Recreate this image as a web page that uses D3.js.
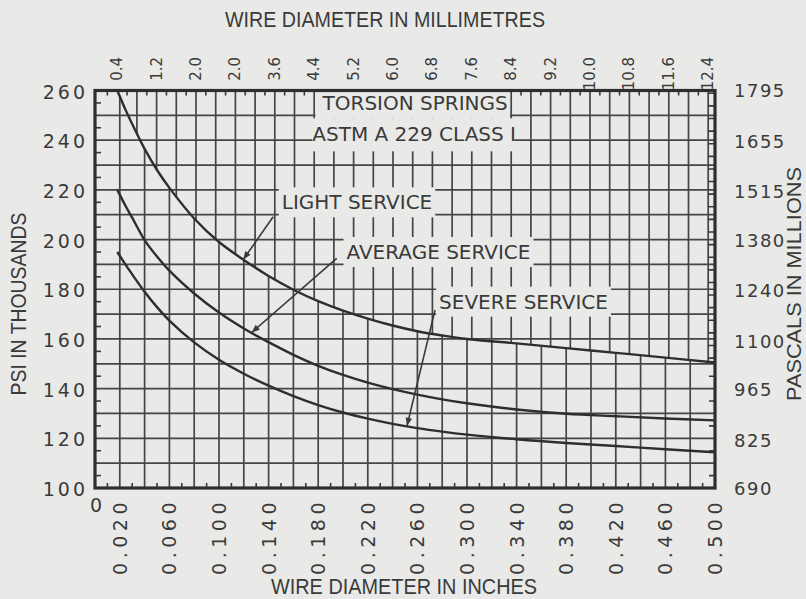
<!DOCTYPE html>
<html>
<head>
<meta charset="utf-8">
<script src="https://cdn.jsdelivr.net/npm/d3@7/dist/d3.min.js"></script>
<style>
  body { margin: 0; background: #e9e9e7; }
  svg { display: block; }
  text { fill: #3a3a3a; font-family: "DejaVu Sans", sans-serif; }
  .title { font-family: "Liberation Sans", Arial, sans-serif; font-size: 22px; }
</style>
</head>
<body>
<div id="chart"></div>
<script>
// Values (wire diameter in inches -> stress in thousands of psi)
var diameters      = [0.018, 0.025, 0.03, 0.04, 0.05, 0.06, 0.08, 0.10, 0.12, 0.14, 0.16, 0.18, 0.20, 0.22, 0.24, 0.26, 0.28, 0.30, 0.34, 0.38, 0.42, 0.46, 0.50];
var lightService   = [260, 251.8, 246.5, 236.5, 228, 220.8, 208.5, 199, 191.8, 185.3, 179.8, 175.2, 171.4, 168.2, 165.4, 163.1, 161.4, 160, 158.2, 156.3, 154.4, 152.5, 150.5];
var averageService = [220, 213.2, 208.8, 199.8, 193.2, 187.5, 178.3, 170.6, 164.2, 158.7, 153.6, 149.2, 145.5, 142.4, 139.8, 137.6, 135.7, 134.1, 131.6, 129.9, 128.9, 128, 127.2];
var severeService  = [195, 189.6, 186, 179, 172.8, 167.4, 158.6, 151.6, 146, 141.2, 137, 133.4, 130.4, 127.9, 125.8, 124.1, 122.7, 121.5, 119.6, 118.1, 116.9, 115.6, 114.4];

// axis ticks and labels
var psiTicks   = [100, 120, 140, 160, 180, 200, 220, 240, 260];
var mpaTicks   = [690, 825, 965, 1100, 1240, 1380, 1515, 1655, 1795];
var inchTicks  = [0.02, 0.06, 0.10, 0.14, 0.18, 0.22, 0.26, 0.30, 0.34, 0.38, 0.42, 0.46, 0.50];
var inchLabels = ["0.020", "0.060", "0.100", "0.140", "0.180", "0.220", "0.260", "0.300", "0.340", "0.380", "0.420", "0.460", "0.500"];
var mmTicks    = [0.4, 1.2, 2.0, 2.8, 3.6, 4.4, 5.2, 6.0, 6.8, 7.6, 8.4, 9.2, 10.0, 10.8, 11.6, 12.4];
var mmLabels   = ["0.4", "1.2", "2.0", "2.0", "3.6", "4.4", "5.2", "6.0", "6.8", "7.6", "8.4", "9.2", "10.0", "10.8", "11.6", "12.4"];

// curve labels: text, label centre (in, psi), arrow tail and tip (in, psi)
var notes = [
  { text: "LIGHT SERVICE",   at: [0.2113, 215.0], from: [0.1437, 209.2], to: [0.1196, 192.0] },
  { text: "AVERAGE SERVICE", at: [0.2770, 195.0], from: [0.1949, 192.4], to: [0.1264, 162.6] },
  { text: "SEVERE SERVICE",  at: [0.3456, 175.0], from: [0.2742, 171.6], to: [0.2516, 125.0] }
];

var width = 806, height = 599;
var plot = { left: 95, right: 715, top: 90.5, bottom: 488 };

var x = d3.scaleLinear().domain([0, 0.5]).range([plot.left, plot.right]);
var y = d3.scaleLinear().domain([100, 260]).range([plot.bottom, plot.top]);
// millimetre scale as printed along the top (slightly offset from the inch one)
var xmm = d3.scaleLinear().domain([0, 12.4]).range([97.5, 708.2]);
var ympa = d3.scaleLinear().domain([100 * 6.895, 260 * 6.895]).range([plot.bottom, plot.top]);

var ink = "#383838";
var paper = "#e9e9e7";

var svg = d3.select("#chart").append("svg")
  .attr("width", width)
  .attr("height", height);

var defs = svg.append("defs");

var smooth = d3.curveCatmullRom.alpha(0.5);
var lightPts = diameters.map(function(d, i) { return [d, lightService[i]]; });

// region above the light service curve uses the millimetre grid, below uses the inch grid
var upperArea = d3.area().curve(smooth)
  .x(function(d) { return x(d[0]); })
  .y0(y(260))
  .y1(function(d) { return y(d[1]); });
var lowerArea = d3.area().curve(smooth)
  .x(function(d) { return x(d[0]); })
  .y0(y(100))
  .y1(function(d) { return y(d[1]); });

defs.append("clipPath").attr("id", "upper")
  .append("path").attr("d", upperArea(lightPts));
var lowClip = defs.append("clipPath").attr("id", "lower");
lowClip.append("path").attr("d", lowerArea(lightPts));
lowClip.append("rect")
  .attr("x", x(0)).attr("y", y(260))
  .attr("width", x(diameters[0]) - x(0) + 0.5)
  .attr("height", y(100) - y(260));

defs.append("marker")
  .attr("id", "head")
  .attr("viewBox", "0 -5 10 10")
  .attr("refX", 10).attr("refY", 0)
  .attr("markerUnits", "userSpaceOnUse")
  .attr("markerWidth", 10).attr("markerHeight", 8)
  .attr("orient", "auto")
  .append("path").attr("d", "M0,-4L10,0L0,4Z").attr("fill", ink);

// Grid
var grid = svg.append("g").attr("stroke", "#454545").attr("stroke-width", 1.7);

grid.append("g").attr("clip-path", "url(#lower)")
  .selectAll("line")
  .data(x.ticks(25).filter(function(d) { return d > 0 && d < 0.5; }))
  .enter().append("line")
  .attr("x1", function(d) { return x(d); }).attr("x2", function(d) { return x(d); })
  .attr("y1", plot.top).attr("y2", plot.bottom);

var mmLines = d3.range(1, 32).map(function(i) { return +(i * 0.4).toFixed(1); });
grid.append("g").attr("clip-path", "url(#upper)")
  .selectAll("line")
  .data(mmLines)
  .enter().append("line")
  .attr("x1", function(d) { return xmm(d); }).attr("x2", function(d) { return xmm(d); })
  .attr("y1", plot.top).attr("y2", plot.bottom);

grid.append("g").selectAll("line")
  .data(y.ticks(16).filter(function(d) { return d > 100 && d < 260; }))
  .enter().append("line")
  .attr("x1", plot.left).attr("x2", plot.right)
  .attr("y1", function(d) { return y(d); }).attr("y2", function(d) { return y(d); });

// Border ticks
var ticks = svg.append("g").attr("stroke", ink).attr("stroke-width", 1.6);
var halfPsi = y.ticks(16).slice(0, -1).map(function(d) { return d + 5; });

ticks.append("g").selectAll("line").data(halfPsi).enter().append("line")
  .attr("x1", plot.left).attr("x2", plot.left + 6)
  .attr("y1", function(d) { return y(d); }).attr("y2", function(d) { return y(d); });

ticks.append("g").attr("clip-path", "url(#lower)")
  .selectAll("line").data(halfPsi).enter().append("line")
  .attr("x1", plot.right).attr("x2", plot.right - 6)
  .attr("y1", function(d) { return y(d); }).attr("y2", function(d) { return y(d); });

ticks.append("g").attr("clip-path", "url(#upper)")
  .selectAll("line").data(d3.range(700, 1795, 35)).enter().append("line")
  .attr("x1", plot.right).attr("x2", xmm(12.4))
  .attr("y1", function(d) { return ympa(d); }).attr("y2", function(d) { return ympa(d); });

ticks.append("g").selectAll("line")
  .data(x.ticks(50).filter(function(d, i) { return i % 2 === 1; }))
  .enter().append("line")
  .attr("x1", function(d) { return x(d); }).attr("x2", function(d) { return x(d); })
  .attr("y1", plot.bottom).attr("y2", plot.bottom - 5);

ticks.append("g").selectAll("line")
  .data(mmLines.map(function(d) { return d - 0.2; }))
  .enter().append("line")
  .attr("x1", function(d) { return xmm(d); }).attr("x2", function(d) { return xmm(d); })
  .attr("y1", plot.top).attr("y2", plot.top + 5);

// Title box at the top of the plot
var boxes = svg.append("g").attr("fill", paper);
boxes.append("rect")
  .attr("x", xmm(4.4) + 1.2).attr("y", plot.top + 1)
  .attr("width", xmm(8.4) - xmm(4.4) - 2.4)
  .attr("height", y(248.8) - plot.top - 1);
boxes.append("rect")
  .attr("x", xmm(4.4) - 2).attr("y", y(248.8))
  .attr("width", xmm(8.4) - xmm(4.4) + 5)
  .attr("height", y(235.5) - y(248.8));

svg.append("text")
  .attr("x", xmm(6.45)).attr("y", y(255))
  .attr("text-anchor", "middle").attr("dominant-baseline", "central")
  .style("font-size", "20px")
  .text("TORSION SPRINGS");
svg.append("text")
  .attr("x", xmm(6.43)).attr("y", y(242.5))
  .attr("text-anchor", "middle").attr("dominant-baseline", "central")
  .style("font-size", "20px")
  .text("ASTM A 229 CLASS I");

// Curve labels with a plain background that hides the grid
var noteG = svg.selectAll("g.note").data(notes).enter().append("g").attr("class", "note");
noteG.append("text")
  .attr("x", function(d) { return x(d.at[0]); })
  .attr("y", function(d) { return y(d.at[1]); })
  .attr("text-anchor", "middle").attr("dominant-baseline", "central")
  .style("font-size", "20px")
  .text(function(d) { return d.text; });
noteG.each(function() {
  var g = d3.select(this);
  var b = g.select("text").node().getBBox();
  g.insert("rect", "text")
    .attr("x", b.x - 3).attr("y", b.y - 3)
    .attr("width", b.width + 6).attr("height", b.height + 6)
    .attr("fill", paper);
});

// Curves
var line = d3.line().curve(smooth)
  .x(function(d) { return x(d[0]); })
  .y(function(d) { return y(d[1]); });

svg.append("g").attr("fill", "none").attr("stroke", "#2e2e2e").attr("stroke-width", 2.4)
  .selectAll("path")
  .data([lightService, averageService, severeService])
  .enter().append("path")
  .attr("d", function(s) { return line(diameters.map(function(d, i) { return [d, s[i]]; })); });

// Arrows from the labels to their curves
svg.append("g").selectAll("line").data(notes).enter().append("line")
  .attr("x1", function(d) { return x(d.from[0]); })
  .attr("y1", function(d) { return y(d.from[1]); })
  .attr("x2", function(d) { return x(d.to[0]); })
  .attr("y2", function(d) { return y(d.to[1]); })
  .attr("stroke", ink).attr("stroke-width", 1.6)
  .attr("marker-end", "url(#head)");

// Frame
svg.append("rect")
  .attr("x", plot.left).attr("y", plot.top)
  .attr("width", plot.right - plot.left).attr("height", plot.bottom - plot.top)
  .attr("fill", "none").attr("stroke", "#2e2e2e").attr("stroke-width", 3.2);

// Left axis labels (psi)
svg.append("g").selectAll("text").data(psiTicks).enter().append("text")
  .attr("x", 88).attr("y", function(d) { return y(d) + 1; })
  .attr("text-anchor", "end").attr("dominant-baseline", "central")
  .style("font-size", "19px").style("letter-spacing", "3px")
  .text(function(d) { return d; });

// Right axis labels (MPa)
svg.append("g").selectAll("text").data(mpaTicks).enter().append("text")
  .attr("x", 734).attr("y", function(d) { return ympa(d) + 1; })
  .attr("dominant-baseline", "central")
  .style("font-size", "18px").style("letter-spacing", "1.5px")
  .text(function(d) { return d; });

// Bottom axis labels (inches), written upwards
svg.append("g").selectAll("text").data(inchTicks).enter().append("text")
  .attr("transform", function(d) { return "translate(" + x(d) + ",498) rotate(-90)"; })
  .attr("text-anchor", "end").attr("dominant-baseline", "central")
  .style("font-size", "19px").style("letter-spacing", "4.5px")
  .text(function(d, i) { return inchLabels[i]; });
svg.append("text")
  .attr("x", x(0) + 1).attr("y", 505)
  .attr("text-anchor", "middle").attr("dominant-baseline", "central")
  .style("font-size", "19px")
  .text("0");

// Top axis labels (millimetres), written upwards
svg.append("g").selectAll("text").data(mmTicks).enter().append("text")
  .attr("transform", function(d) { return "translate(" + xmm(d) + ",57) rotate(-90)"; })
  .attr("text-anchor", "end").attr("dominant-baseline", "central")
  .style("font-size", "15px")
  .text(function(d, i) { return mmLabels[i]; });

// Axis titles, set in a narrow style
function title(txt, len, tr, size) {
  svg.append("text").attr("class", "title")
    .attr("transform", tr)
    .attr("text-anchor", "middle")
    .attr("textLength", len)
    .attr("lengthAdjust", "spacingAndGlyphs")
    .style("font-size", size + "px")
    .text(txt);
}
title("WIRE DIAMETER IN MILLIMETRES", 320, "translate(385,27)", 22);
title("WIRE DIAMETER IN INCHES", 266, "translate(404,594)", 22);
title("PSI IN THOUSANDS", 183, "translate(26,304) rotate(-90)", 22);
title("PASCALS IN MILLIONS", 234, "translate(801,284) rotate(-90)", 20);
</script>
</body>
</html>
